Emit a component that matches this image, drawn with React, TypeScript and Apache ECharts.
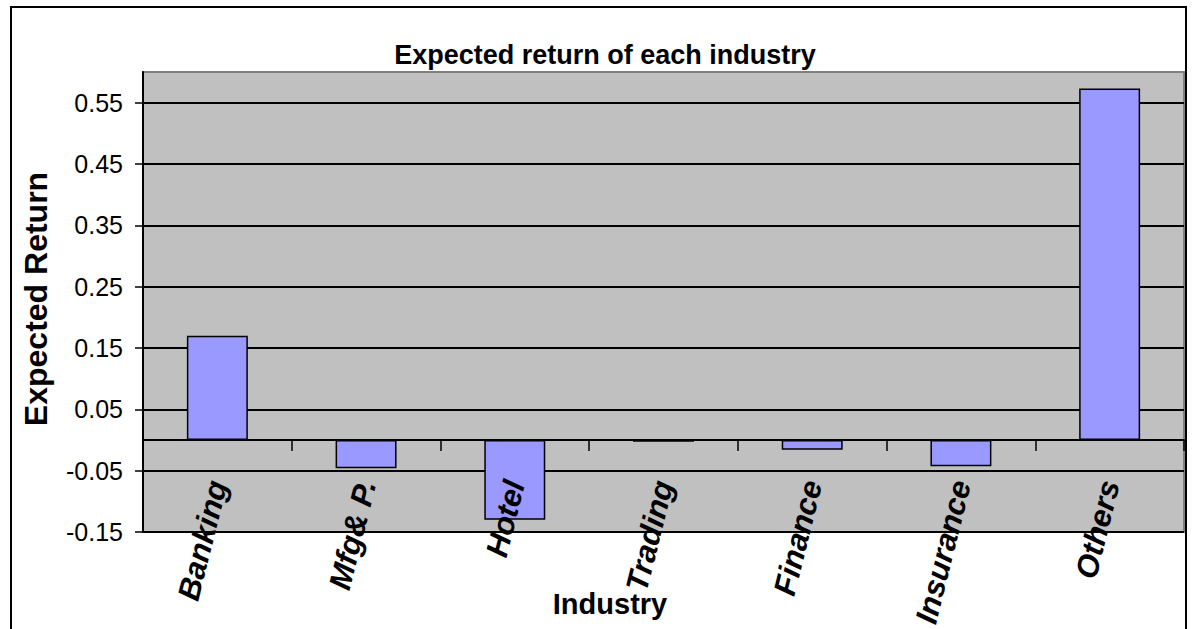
import { useEffect, useRef } from 'react';
import * as echarts from 'echarts';

const industries = ['Banking', 'Mfg& P.', 'Hotel', 'Trading', 'Finance', 'Insurance', 'Others'];
const expectedReturns = [0.17, -0.046, -0.13, -0.003, -0.016, -0.043, 0.573];
const yTickValues = [-0.15, -0.05, 0.05, 0.15, 0.25, 0.35, 0.45, 0.55];
const chartTitle = 'Expected return of each industry';
const xAxisTitle = 'Industry';
const yAxisTitle = 'Expected Return';

const FONT = '"Liberation Sans", Arial, Helvetica, sans-serif';

export default function App() {
  const ref = useRef<HTMLDivElement>(null);

  useEffect(() => {
    const chart = echarts.init(ref.current!, null, { renderer: 'svg' });
    chart.setOption({
      animation: false,
      backgroundColor: '#ffffff',
      textStyle: { fontFamily: FONT },
      grid: {
        left: 143,
        top: 72,
        width: 1041,
        height: 460,
        show: true,
        backgroundColor: '#c0c0c0',
        borderColor: '#808080',
        borderWidth: 2,
        containLabel: false,
        outerBoundsMode: 'none',
      },
      xAxis: {
        type: 'category',
        data: industries,
        z: 5,
        axisLine: { onZero: true, lineStyle: { color: '#000', width: 2 } },
        axisTick: { show: true, length: 11, lineStyle: { color: '#000', width: 1.5 } },
        axisLabel: {
          interval: 0,
          rotate: 76,
          margin: -51,
          color: '#000',
          fontSize: 31,
          fontWeight: 'bold',
          fontStyle: 'italic',
          fontFamily: FONT,
        },
        splitLine: { show: false },
      },
      yAxis: {
        type: 'value',
        min: -0.15,
        max: 0.6,
        axisLine: { show: true, onZero: false, lineStyle: { color: '#000', width: 2 } },
        axisTick: {
          show: true,
          inside: false,
          length: 8,
          customValues: yTickValues,
          lineStyle: { color: '#000', width: 1.5 },
        },
        axisLabel: {
          customValues: yTickValues,
          margin: 20,
          color: '#000',
          fontSize: 25,
          fontFamily: FONT,
          formatter: (v: number) => v.toFixed(2),
        },
        splitLine: { show: true, lineStyle: { color: '#000', width: 2 } },
      },
      series: [
        {
          type: 'bar',
          data: expectedReturns,
          barCategoryGap: '59%',
          itemStyle: { color: '#9999ff', borderColor: '#000', borderWidth: 1.5 },
        },
      ],
      graphic: [
        {
          type: 'rect',
          silent: true,
          shape: { x: 11, y: 7, width: 1175, height: 660 },
          style: { fill: 'none', stroke: '#000', lineWidth: 2 },
        },
        {
          type: 'text',
          x: 605,
          y: 55,
          style: {
            text: chartTitle,
            fontSize: 27,
            fontWeight: 'bold',
            fontFamily: FONT,
            fill: '#000',
            textAlign: 'center',
            textVerticalAlign: 'middle',
          },
        },
        {
          type: 'text',
          x: 610,
          y: 604,
          style: {
            text: xAxisTitle,
            fontSize: 29,
            fontWeight: 'bold',
            fontFamily: FONT,
            fill: '#000',
            textAlign: 'center',
            textVerticalAlign: 'middle',
          },
        },
        {
          type: 'text',
          x: 36,
          y: 299,
          rotation: Math.PI / 2,
          style: {
            text: yAxisTitle,
            fontSize: 32,
            fontWeight: 'bold',
            fontFamily: FONT,
            fill: '#000',
            textAlign: 'center',
            textVerticalAlign: 'middle',
          },
        },
      ],
    });
    return () => chart.dispose();
  }, []);

  return (
    <div
      ref={ref}
      style={{ position: 'fixed', left: 0, top: 0, width: 1192, height: 629 }}
    />
  );
}
